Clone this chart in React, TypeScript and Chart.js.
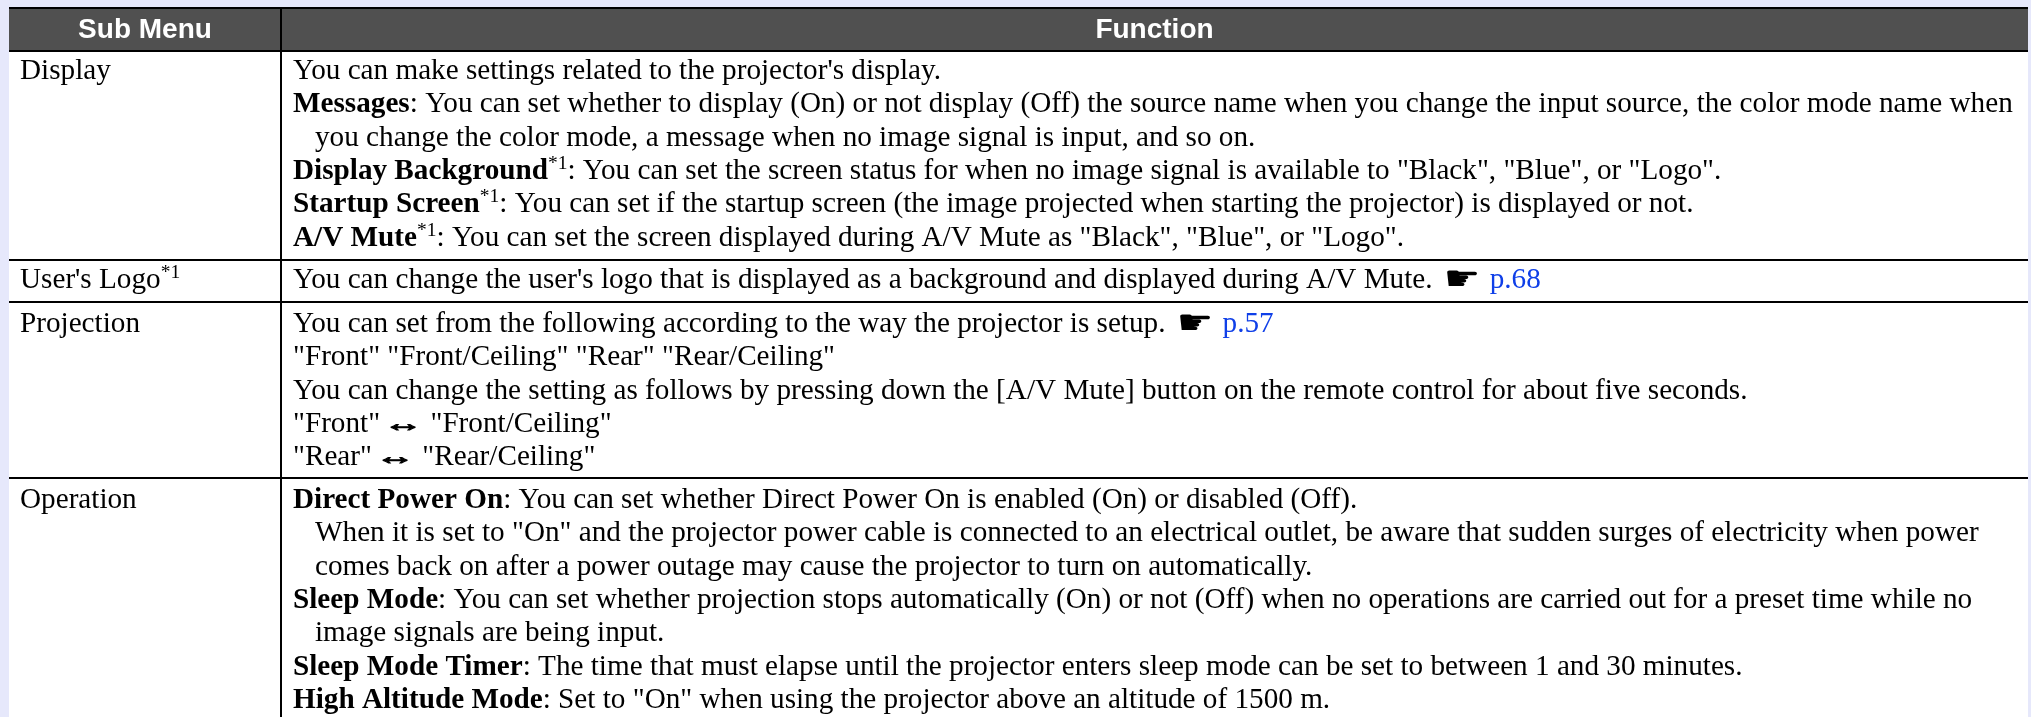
import React, { useEffect, useRef } from "react";
import { Chart, registerables } from "chart.js";

Chart.register(...registerables);

// Markup: **bold**, ^superscript^, {link}, leading ">" = hanging indent, "☛" = hand glyph, "↔" = arrow glyph
const headers = ["Sub Menu", "Function"];
const subMenus = ["Display", "User's Logo^*1^", "Projection", "Operation"];
const displayLines = [
  "You can make settings related to the projector's display.",
  "**Messages**: You can set whether to display (On) or not display (Off) the source name when you change the input source, the color mode name when",
  ">you change the color mode, a message when no image signal is input, and so on.",
  '**Display Background**^*1^: You can set the screen status for when no image signal is available to "Black", "Blue", or "Logo".',
  "**Startup Screen**^*1^: You can set if the startup screen (the image projected when starting the projector) is displayed or not.",
  '**A/V Mute**^*1^: You can set the screen displayed during A/V Mute as "Black", "Blue", or "Logo".',
];
const logoLines = [
  "You can change the user's logo that is displayed as a background and displayed during A/V Mute. ☛ {p.68}",
];
const projectionLines = [
  "You can set from the following according to the way the projector is setup. ☛ {p.57}",
  '"Front" "Front/Ceiling" "Rear" "Rear/Ceiling"',
  "You can change the setting as follows by pressing down the [A/V Mute] button on the remote control for about five seconds.",
  '"Front" ↔ "Front/Ceiling"',
  '"Rear" ↔ "Rear/Ceiling"',
];
const operationLines = [
  "**Direct Power On**: You can set whether Direct Power On is enabled (On) or disabled (Off).",
  '>When it is set to "On" and the projector power cable is connected to an electrical outlet, be aware that sudden surges of electricity when power',
  ">comes back on after a power outage may cause the projector to turn on automatically.",
  "**Sleep Mode**: You can set whether projection stops automatically (On) or not (Off) when no operations are carried out for a preset time while no",
  ">image signals are being input.",
  "**Sleep Mode Timer**: The time that must elapse until the projector enters sleep mode can be set to between 1 and 30 minutes.",
  '**High Altitude Mode**: Set to "On" when using the projector above an altitude of 1500 m.',
];
const rowLines = [displayLines, logoLines, projectionLines, operationLines];
const rowFirstBaselines = [79, 288, 332, 508];

const W = 2031;
const H = 717;
const LEFT = 9;
const RIGHT = 2028;
const COL = 281;
const PITCH = 33.3;
const SERIF = '"Liberation Serif"';
const FONT_SIZE = 29.2;

type Run = { text: string; kind: "n" | "b" | "s" | "l" | "h" | "a" };

function parse(line: string): Run[] {
  const runs: Run[] = [];
  const re = /\*\*(.+?)\*\*|\^(.+?)\^|\{(.+?)\}|(☛)|(↔)/g;
  let last = 0;
  let m: RegExpExecArray | null;
  while ((m = re.exec(line))) {
    if (m.index > last) runs.push({ text: line.slice(last, m.index), kind: "n" });
    if (m[1]) runs.push({ text: m[1], kind: "b" });
    else if (m[2]) runs.push({ text: m[2], kind: "s" });
    else if (m[3]) runs.push({ text: m[3], kind: "l" });
    else if (m[4]) runs.push({ text: m[4], kind: "h" });
    else runs.push({ text: m[5], kind: "a" });
    last = m.index + m[0].length;
  }
  if (last < line.length) runs.push({ text: line.slice(last), kind: "n" });
  return runs;
}

function drawScaled(
  ctx: CanvasRenderingContext2D,
  text: string,
  font: string,
  x: number,
  y: number,
  sx: number,
  heavy = false
) {
  ctx.save();
  ctx.font = font;
  ctx.translate(x, y);
  ctx.scale(sx, 1);
  ctx.fillText(text, 0, 0);
  if (heavy) {
    ctx.strokeStyle = "#000";
    ctx.lineWidth = 1;
    ctx.strokeText(text, 0, 0);
  }
  ctx.restore();
}

function drawLine(ctx: CanvasRenderingContext2D, raw: string, x0: number, y: number) {
  const indent = raw.startsWith(">");
  let x = x0 + (indent ? 22 : 0);
  for (const r of parse(indent ? raw.slice(1) : raw)) {
    ctx.fillStyle = "#000";
    if (r.kind === "h") {
      drawScaled(ctx, r.text, '34px "DejaVu Sans"', x + 4, y + 2, 1.2);
      x += 42.5;
      continue;
    }
    if (r.kind === "a") {
      drawScaled(ctx, r.text, 'bold 24px "Liberation Sans"', x - 4, y - 1, 1.65, true);
      x += 35.8;
      continue;
    }
    let yy = y;
    if (r.kind === "b") ctx.font = `bold ${FONT_SIZE}px ${SERIF}`;
    else if (r.kind === "s") {
      ctx.font = `19.5px ${SERIF}`;
      yy = y - 10;
    } else {
      ctx.font = `${FONT_SIZE}px ${SERIF}`;
      if (r.kind === "l") ctx.fillStyle = "#0f3fe8";
    }
    ctx.fillText(r.text, x, yy);
    x += ctx.measureText(r.text).width;
  }
}

const tablePlugin = {
  id: "tablePlugin",
  afterDraw(chart: Chart) {
    const ctx = chart.ctx;
    ctx.save();
    ctx.textBaseline = "alphabetic";
    ctx.textAlign = "left";
    ctx.fillStyle = "#e6e8fb";
    ctx.fillRect(0, 0, W, H);
    ctx.fillStyle = "#ffffff";
    ctx.fillRect(LEFT, 52, RIGHT - LEFT, H - 52);
    ctx.fillStyle = "#505050";
    ctx.fillRect(LEFT, 9, RIGHT - LEFT, 41);
    ctx.fillStyle = "#000";
    ctx.fillRect(LEFT, 7, RIGHT - LEFT, 2);
    ctx.fillRect(LEFT, 50, RIGHT - LEFT, 2);
    ctx.fillRect(LEFT, 259, RIGHT - LEFT, 2);
    ctx.fillRect(LEFT, 301, RIGHT - LEFT, 2);
    ctx.fillRect(LEFT, 477, RIGHT - LEFT, 2);
    ctx.fillRect(COL - 1, 7, 2, H - 7);

    ctx.textAlign = "center";
    ctx.fillStyle = "#fff";
    ctx.font = 'bold 28px "Liberation Sans"';
    ctx.fillText(headers[0], (LEFT + COL) / 2, 38);
    ctx.fillText(headers[1], (COL + RIGHT) / 2, 38);
    ctx.textAlign = "left";

    subMenus.forEach((s, i) => drawLine(ctx, s, 20, rowFirstBaselines[i]));
    rowLines.forEach((lines, i) =>
      lines.forEach((l, j) => drawLine(ctx, l, 293, rowFirstBaselines[i] + j * PITCH))
    );
    ctx.restore();
  },
};

export default function App() {
  const ref = useRef<HTMLCanvasElement>(null);
  useEffect(() => {
    document.body.style.margin = "0";
    const chart = new Chart(ref.current!, {
      type: "scatter",
      data: { datasets: [] },
      options: {
        animation: false,
        responsive: false,
        plugins: { legend: { display: false }, tooltip: { enabled: false } },
        scales: { x: { display: false }, y: { display: false } },
      },
      plugins: [tablePlugin],
    });
    return () => chart.destroy();
  }, []);
  return <canvas ref={ref} width={W} height={H} style={{ display: "block" }} />;
}
